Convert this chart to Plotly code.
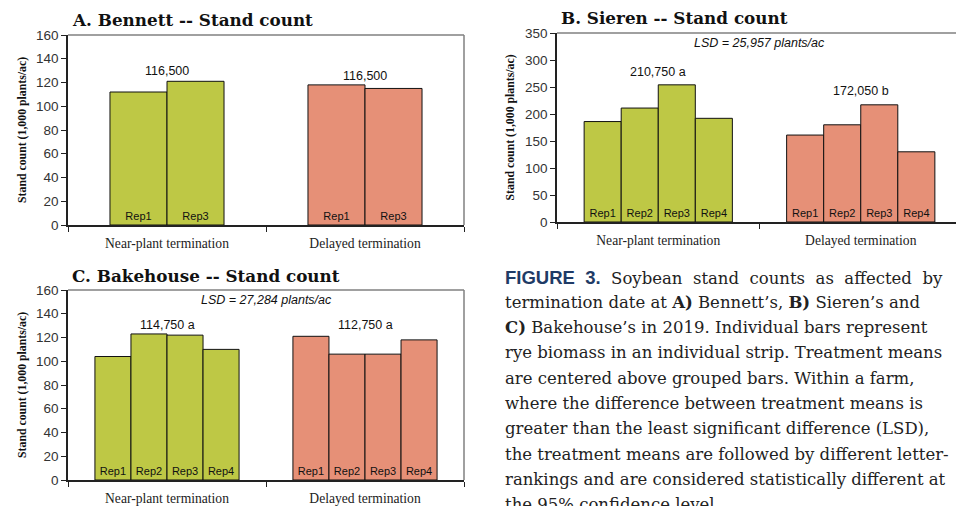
import plotly.graph_objects as go

W, H = 964, 506
OFF = 8  # page body margin offset

treatments = ["Near-plant termination", "Delayed termination"]

a_reps = ["Rep1", "Rep3"]
a_near = [112, 121]
a_delayed = [118, 115]
a_means = ["116,500", "116,500"]

b_reps = ["Rep1", "Rep2", "Rep3", "Rep4"]
b_near = [186, 211, 254, 192]
b_delayed = [161, 180, 217, 130]
b_means = ["210,750 a", "172,050 b"]
b_lsd = "LSD = 25,957 plants/ac"

c_reps = ["Rep1", "Rep2", "Rep3", "Rep4"]
c_near = [104, 123, 122, 110]
c_delayed = [121, 106, 106, 118]
c_means = ["114,750 a", "112,750 a"]
c_lsd = "LSD = 27,284 plants/ac"

titles = ["A. Bennett -- Stand count", "B. Sieren -- Stand count", "C. Bakehouse -- Stand count"]
ytitle = "Stand count (1,000 plants/ac)"

caption_lines = [
    '<span style="font-family:Liberation Sans;color:#1f3b66;font-size:18.5px"><b>FIGURE  3.</b></span>  Soybean  stand  counts  as  affected  by',
    'termination date at <b>A)</b> Bennett\u2019s, <b>B)</b> Sieren\u2019s and',
    '<b>C)</b> Bakehouse\u2019s in 2019. Individual bars represent',
    'rye biomass in an individual strip. Treatment means',
    'are centered above grouped bars. Within a farm,',
    'where the difference between treatment means is',
    'greater than the least significant difference (LSD),',
    'the treatment means are followed by different letter-',
    'rankings and are considered statistically different at',
    'the 95% confidence level.',
]

GREEN = "#bec845"
SALMON = "#e69077"


def px(x):
    return (x - OFF) / W


def py(y):
    return 1 - (y - OFF) / H


panels = [
    dict(reps=a_reps, near=a_near, delayed=a_delayed, means=a_means, lsd=None,
         xdom=(68, 464), ydom=(35, 225), ymax=160, dtick=20, barw=0.288,
         mean_y=[130, 125.5], title_pos=(70, 20), ytitle_x=22),
    dict(reps=b_reps, near=b_near, delayed=b_delayed, means=b_means, lsd=b_lsd,
         xdom=(557, 962), ydom=(33, 222), ymax=350, dtick=50, barw=0.183,
         mean_y=[277.8, 242.6], title_pos=(559, 18), ytitle_x=510),
    dict(reps=c_reps, near=c_near, delayed=c_delayed, means=c_means, lsd=c_lsd,
         xdom=(68, 464), ydom=(290, 480), ymax=160, dtick=20, barw=0.182,
         mean_y=[130.5, 130.5], title_pos=(70, 276), ytitle_x=22),
]

fig = go.Figure()
annotations = []
shapes = []
layout = {}

for k, p in enumerate(panels):
    n = len(p["reps"])
    sfx = "" if k == 0 else str(k + 1)
    xa, ya = "x" + sfx, "y" + sfx
    for i, rep in enumerate(p["reps"]):
        off = -n * p["barw"] / 2 + i * p["barw"]
        fig.add_trace(go.Bar(
            x=treatments, y=[p["near"][i], p["delayed"][i]],
            xaxis=xa, yaxis=ya,
            width=p["barw"], offset=off,
            marker=dict(color=[GREEN, SALMON], line=dict(color="#111111", width=1)),
            text=[rep, rep], textposition="inside", insidetextanchor="start",
            textangle=0, constraintext="none",
            textfont=dict(family="Liberation Sans, Arial", size=11, color="#111111"),
            showlegend=False, hoverinfo="skip",
        ))
    x0, x1 = p["xdom"]
    y0, y1 = p["ydom"]
    layout["xaxis" + sfx] = dict(
        domain=[px(x0), px(x1)], anchor=ya, type="category", range=[-0.5, 1.5],
        showline=True, linecolor="#222222", linewidth=1.5, automargin=False,
        ticks="outside", tickson="boundaries", ticklen=5, tickcolor="#222222",
        tickfont=dict(family="Liberation Serif", size=13.6, color="#222222"),
        ticklabelstandoff=5, showgrid=False, zeroline=False, fixedrange=True,
    )
    layout["yaxis" + sfx] = dict(
        domain=[py(y1), py(y0)], anchor=xa, range=[0, p["ymax"]], dtick=p["dtick"],
        showline=True, linecolor="#222222", linewidth=1.5, automargin=False,
        ticks="outside", ticklen=5, tickcolor="#222222",
        tickfont=dict(family="Liberation Sans, Arial", size=13.5, color="#333333"),
        showgrid=False, zeroline=False, fixedrange=True,
    )
    shapes.append(dict(type="line", xref=xa + " domain", yref=ya + " domain",
                       x0=0, x1=1, y0=1, y1=1, line=dict(color="#808080", width=1.5)))
    shapes.append(dict(type="line", xref=xa + " domain", yref=ya + " domain",
                       x0=1, x1=1, y0=0, y1=1, line=dict(color="#808080", width=1.5)))
    for j, t in enumerate(treatments):
        annotations.append(dict(x=t, y=p["mean_y"][j], xref=xa, yref=ya, text=p["means"][j],
                                showarrow=False, xanchor="center", yanchor="middle",
                                font=dict(family="Liberation Sans, Arial", size=12.5, color="#111111")))
    if p["lsd"]:
        annotations.append(dict(x=0.5, y=1, xref=xa + " domain", yref=ya + " domain",
                                text="<i>" + p["lsd"] + "</i>", showarrow=False,
                                xanchor="center", yanchor="top", yshift=-1,
                                font=dict(family="Liberation Sans, Arial", size=12.5, color="#111111")))
    tx, ty = p["title_pos"]
    annotations.append(dict(x=px(tx), y=py(ty), xref="paper", yref="paper",
                            text="<b>" + titles[k] + "</b>", showarrow=False,
                            xanchor="left", yanchor="middle",
                            font=dict(family="DejaVu Serif", size=16.8, color="#111111")))
    annotations.append(dict(x=px(p["ytitle_x"]), y=py((y0 + y1) / 2), xref="paper", yref="paper",
                            text="<b>" + ytitle + "</b>", showarrow=False, textangle=-90,
                            xanchor="center", yanchor="middle",
                            font=dict(family="Liberation Serif", size=11.8, color="#111111")))

for i, line in enumerate(caption_lines):
    annotations.append(dict(x=px(503), y=py(277 + 25.3 * i), xref="paper", yref="paper",
                            text=line, showarrow=False, xanchor="left", yanchor="middle",
                            font=dict(family="DejaVu Serif", size=16.5, color="#222222")))

fig.update_layout(
    width=W, height=H, margin=dict(l=0, r=0, t=0, b=0, autoexpand=False),
    paper_bgcolor="white", plot_bgcolor="white",
    barmode="overlay", annotations=annotations, shapes=shapes,
    **layout,
)

fig.write_html("out.html")
